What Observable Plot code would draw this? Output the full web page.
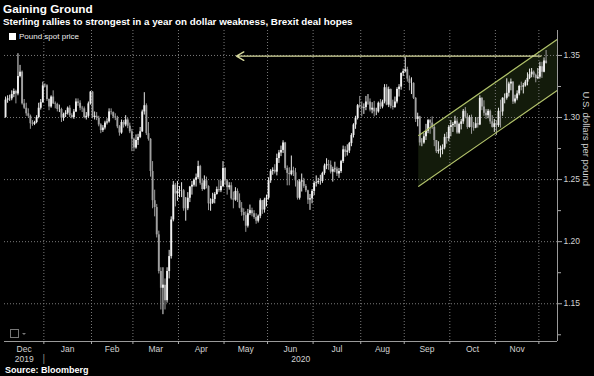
<!DOCTYPE html>
<html><head><meta charset="utf-8">
<script src="https://cdn.jsdelivr.net/npm/d3@7"></script>
<script src="https://cdn.jsdelivr.net/npm/@observablehq/plot@0.6"></script>
<style>
html,body{margin:0;padding:0;background:#000;}
#wrap{position:relative;width:594px;height:376px;background:#000;overflow:hidden;font-family:"Liberation Sans",Arial,sans-serif;color:#fff;}
#chart{position:absolute;left:0;top:28px;}
#title{position:absolute;left:3px;top:2px;font-size:11.8px;font-weight:bold;}
#subtitle{position:absolute;left:3px;top:16px;font-size:9.8px;font-weight:bold;}
#legend{position:absolute;left:9px;top:32px;font-size:8px;display:flex;align-items:center;gap:3px;color:#eee;}
#legend .sw{width:7px;height:7px;background:#fff;}
#source{position:absolute;left:5px;top:365px;font-size:9px;font-weight:bold;}
#icon{position:absolute;left:10px;top:329px;width:7px;height:7px;border:1px solid #777;}
#icon2{position:absolute;left:22px;top:333px;width:0;height:0;border-left:2px solid transparent;border-right:2px solid transparent;border-top:2px solid #777;}
</style></head>
<body><div id="wrap">
<div id="chart"></div>
<div id="title">Gaining Ground</div>
<div id="subtitle">Sterling rallies to strongest in a year on dollar weakness, Brexit deal hopes</div>
<div id="legend"><div class="sw"></div><span>Pound spot price</span></div>
<div id="icon"></div><div id="icon2"></div>
<div id="source">Source: Bloomberg</div>
</div>
<script>
// Trading days start 2019-12-05; one value per weekday through 2020-12-04
const firstDay = "2019-12-05";
const firstOpen = 1.3000;
const close = [
1.3140,1.3150,
1.3150,1.3185,1.3210,1.3190,1.3330,
1.3365,1.3110,1.3075,1.3030,1.3010,
1.2950,1.2945,1.2960,1.3000,1.3075,
1.3120,1.3255,1.3255,1.3145,1.3085,
1.3165,1.3110,1.3105,1.3065,1.3065,
1.2995,1.3025,1.3035,1.3075,1.3015,
1.3000,1.3045,1.3125,1.3115,1.3075,
1.3070,1.3000,1.3010,1.3110,1.3205,
1.3000,1.3010,1.2995,1.2940,1.2895,
1.2915,1.2955,1.2965,1.3045,1.3040,
1.3005,1.2995,1.2925,1.2875,1.2960,
1.2940,1.2980,1.2930,1.2885,1.2825,
1.2755,1.2815,1.2840,1.2885,1.3045,
1.3095,1.2870,1.2825,1.2565,1.2330,
1.2275,1.2055,1.1760,1.1625,1.1650,
1.1525,1.1760,1.1880,1.2175,1.2455,
1.2385,1.2405,1.2410,1.2410,1.2265,
1.2265,1.2350,1.2440,1.2455,1.2495,
1.2515,1.2605,1.2470,1.2420,1.2490,
1.2445,1.2305,1.2310,1.2340,1.2380,
1.2420,1.2410,1.2445,1.2590,1.2490,
1.2435,1.2450,1.2345,1.2335,1.2405,
1.2330,1.2270,1.2235,1.2210,1.2125,
1.2225,1.2250,1.2225,1.2195,1.2165,
1.2205,1.2330,1.2255,1.2335,1.2350,
1.2490,1.2565,1.2575,1.2560,1.2670,
1.2715,1.2735,1.2795,1.2590,1.2550,
1.2540,1.2570,1.2555,1.2490,1.2350,
1.2480,1.2490,1.2445,1.2410,1.2335,
1.2345,1.2405,1.2470,1.2475,1.2485,
1.2485,1.2550,1.2610,1.2620,1.2615,
1.2560,1.2580,1.2585,1.2545,1.2565,
1.2645,1.2740,1.2720,1.2730,1.2790,
1.2855,1.2940,1.2995,1.3095,1.3085,
1.3075,1.3080,1.3125,1.3125,1.3060,
1.3075,1.3045,1.3045,1.3115,1.3085,
1.3125,1.3240,1.3100,1.3225,1.3090,
1.3080,1.3125,1.3225,1.3245,1.3355,
1.3370,1.3385,1.3310,1.3275,1.3275,
1.3155,1.2985,1.3005,1.2795,1.2795,
1.2845,1.2890,1.2975,1.2955,1.2920,
1.2815,1.2725,1.2735,1.2745,1.2755,
1.2840,1.2830,1.2920,1.2935,1.2945,
1.2970,1.2875,1.2945,1.2965,1.3050,
1.3005,1.2920,1.3000,1.2920,1.2915,
1.2950,1.2940,1.3155,1.3085,1.3035,
1.3015,1.3050,1.2965,1.2920,1.2950,
1.2935,1.3050,1.3045,1.3155,1.3155,
1.3195,1.3270,1.3285,1.3125,1.3150,
1.3190,1.3250,1.3245,1.3255,1.3285,
1.3315,1.3345,1.3365,1.3340,1.3315,
1.3325,1.3410,1.3365,1.3455,1.3435
];
const high = [
1.3165,1.3175,
1.3180,1.3215,1.3230,1.3220,1.3514,
1.3420,1.3375,1.3145,1.3115,1.3070,
1.3020,1.2975,1.2970,1.3015,1.3115,
1.3145,1.3285,1.3270,1.3265,1.3150,
1.3175,1.3215,1.3125,1.3115,1.3100,
1.3075,1.3035,1.3055,1.3085,1.3095,
1.3030,1.3065,1.3150,1.3150,1.3135,
1.3090,1.3085,1.3040,1.3125,1.3210,
1.3210,1.3045,1.3040,1.3010,1.2950,
1.2935,1.2970,1.2990,1.3070,1.3070,
1.3045,1.3030,1.3010,1.2935,1.2980,
1.2975,1.3015,1.2995,1.2955,1.2905,
1.2835,1.2860,1.2865,1.2920,1.3060,
1.3200,1.3110,1.2960,1.2830,1.2645,
1.2415,1.2300,1.2085,1.1790,1.1790,
1.1700,1.1790,1.1930,1.2200,1.2485,
1.2470,1.2485,1.2445,1.2475,1.2420,
1.2355,1.2395,1.2445,1.2485,1.2505,
1.2545,1.2648,1.2615,1.2505,1.2530,
1.2520,1.2450,1.2345,1.2390,1.2395,
1.2440,1.2495,1.2490,1.2645,1.2595,
1.2500,1.2475,1.2475,1.2400,1.2435,
1.2425,1.2385,1.2315,1.2265,1.2240,
1.2260,1.2295,1.2270,1.2250,1.2225,
1.2215,1.2345,1.2330,1.2350,1.2375,
1.2515,1.2580,1.2595,1.2620,1.2705,
1.2735,1.2770,1.2813,1.2800,1.2610,
1.2595,1.2690,1.2600,1.2590,1.2490,
1.2500,1.2545,1.2510,1.2460,1.2415,
1.2380,1.2420,1.2485,1.2530,1.2510,
1.2535,1.2560,1.2625,1.2668,1.2655,
1.2650,1.2600,1.2640,1.2600,1.2590,
1.2655,1.2770,1.2765,1.2780,1.2800,
1.2870,1.2950,1.3010,1.3105,1.3170,
1.3125,1.3110,1.3170,1.3185,1.3150,
1.3120,1.3130,1.3075,1.3125,1.3145,
1.3140,1.3265,1.3265,1.3245,1.3230,
1.3140,1.3165,1.3240,1.3265,1.3360,
1.3390,1.3482,1.3405,1.3335,1.3320,
1.3280,1.3160,1.3035,1.3010,1.2830,
1.2870,1.2945,1.2985,1.2985,1.3005,
1.2935,1.2815,1.2805,1.2770,1.2780,
1.2865,1.2880,1.2935,1.2975,1.2960,
1.3010,1.2990,1.2955,1.2985,1.3065,
1.3080,1.3030,1.3015,1.3020,1.2960,
1.3000,1.3000,1.3175,1.3160,1.3135,
1.3065,1.3065,1.3060,1.3015,1.2985,
1.2975,1.3075,1.3140,1.3160,1.3190,
1.3312,1.3285,1.3310,1.3290,1.3180,
1.3215,1.3260,1.3285,1.3275,1.3300,
1.3360,1.3390,1.3395,1.3375,1.3350,
1.3395,1.3445,1.3445,1.3480,1.3540
];
const low = [
1.2995,1.3115,
1.3130,1.3135,1.3160,1.3110,1.3175,
1.3320,1.3100,1.3065,1.3010,1.2995,
1.2905,1.2930,1.2935,1.2950,1.2990,
1.3060,1.3115,1.3240,1.3130,1.3055,
1.3075,1.3105,1.3070,1.3045,1.3040,
1.2960,1.2970,1.3000,1.3020,1.3000,
1.2990,1.2985,1.3040,1.3090,1.3055,
1.3040,1.2990,1.2980,1.2995,1.3100,
1.2990,1.2980,1.2975,1.2925,1.2870,
1.2880,1.2900,1.2940,1.2955,1.3020,
1.2990,1.2975,1.2910,1.2850,1.2865,
1.2915,1.2925,1.2910,1.2870,1.2725,
1.2725,1.2745,1.2775,1.2830,1.2880,
1.3020,1.2855,1.2810,1.2520,1.2265,
1.2200,1.2030,1.1740,1.1450,1.1412,
1.1450,1.1505,1.1700,1.1860,1.2160,
1.2280,1.2325,1.2355,1.2355,1.2245,
1.2165,1.2250,1.2315,1.2375,1.2440,
1.2440,1.2500,1.2455,1.2405,1.2415,
1.2425,1.2250,1.2245,1.2300,1.2305,
1.2375,1.2395,1.2395,1.2435,1.2455,
1.2375,1.2415,1.2335,1.2265,1.2325,
1.2315,1.2265,1.2205,1.2165,1.2075,
1.2110,1.2210,1.2200,1.2180,1.2140,
1.2150,1.2185,1.2220,1.2230,1.2280,
1.2335,1.2470,1.2535,1.2545,1.2530,
1.2630,1.2685,1.2710,1.2575,1.2450,
1.2450,1.2530,1.2525,1.2440,1.2335,
1.2335,1.2400,1.2430,1.2395,1.2300,
1.2252,1.2305,1.2370,1.2440,1.2460,
1.2455,1.2470,1.2535,1.2580,1.2575,
1.2545,1.2480,1.2555,1.2525,1.2510,
1.2550,1.2630,1.2680,1.2690,1.2710,
1.2765,1.2835,1.2905,1.2980,1.3075,
1.3005,1.3025,1.3055,1.3100,1.3045,
1.3030,1.3005,1.3015,1.3035,1.3065,
1.3070,1.3110,1.3095,1.3080,1.3070,
1.3060,1.3075,1.3110,1.3165,1.3220,
1.3330,1.3360,1.3285,1.3215,1.3185,
1.3145,1.2960,1.2925,1.2770,1.2765,
1.2785,1.2815,1.2870,1.2865,1.2905,
1.2765,1.2710,1.2705,1.2675,1.2700,
1.2740,1.2785,1.2805,1.2845,1.2880,
1.2920,1.2865,1.2865,1.2900,1.2945,
1.2990,1.2905,1.2915,1.2865,1.2890,
1.2910,1.2915,1.2935,1.3055,1.3010,
1.2985,1.2990,1.2945,1.2915,1.2880,
1.2855,1.2920,1.2915,1.3010,1.3110,
1.3140,1.3165,1.3215,1.3105,1.3110,
1.3135,1.3175,1.3215,1.3190,1.3245,
1.3255,1.3305,1.3320,1.3320,1.3280,
1.3305,1.3310,1.3315,1.3360,1.3430
];

// Tick labels
const monthLabels = ["Dec","Jan","Feb","Mar","Apr","May","Jun","Jul","Aug","Sep","Oct","Nov"];
const yearLabels = ["2019","2020"];
const yTicks = [1.15,1.20,1.25,1.30,1.35];
const yMinorTicks = [1.125,1.175,1.225,1.275,1.325];
const yTitle = "U.S. dollars per pound";

// Annotations: uptrend channel and resistance level
const channelDates = ["2020-09-10","2020-12-14"];
const channelUpper = [1.2856, 1.3630];
const channelLower = [1.2446, 1.3220];
const resistanceDates = ["2020-12-02","2020-05-11"];
const resistanceLevel = 1.3495;
const axisEndDate = "2020-12-14";

// --- trading-day index (Bloomberg plots weekdays only) ---
const days = [];
{
  const d = new Date(firstDay + "T00:00:00Z");
  while (days.length < 300) {
    const wd = d.getUTCDay();
    if (wd !== 0 && wd !== 6) days.push(new Date(d));
    d.setUTCDate(d.getUTCDate() + 1);
  }
}
const idx = s => days.findIndex(t => +t === +new Date(s + "T00:00:00Z"));
const xEnd = idx(axisEndDate);

const rows = close.map((c, i) => {
  const o = i === 0 ? firstOpen : close[i - 1];
  return {u: i + 0.5, o, c, h: Math.max(high[i], o, c), l: Math.min(low[i], o, c), up: c >= o};
});

// month boundaries
const bounds = [];
for (let i = 1; i <= xEnd; i++) if (days[i].getUTCMonth() !== days[i-1].getUTCMonth()) bounds.push(i);
const segStarts = [0, ...bounds];
const monthRows = monthLabels.map((m, k) => ({label: m, x: (segStarts[k] + segStarts[k+1]) / 2}));
const yearRows = [
  {label: yearLabels[0], x: bounds[0] / 2},
  {label: yearLabels[1], x: (bounds[0] + xEnd) / 2}
];

const channel = channelDates.map((d, k) => ({u: idx(d), lo: channelLower[k], hi: channelUpper[k]}));

const yDomain = [1.1196, 1.3701];
const grid = {stroke: "#7a7a7a", strokeDasharray: "1,2", strokeWidth: 1};
const txt = "#d2d2d2";

const chart = Plot.plot({
  width: 594, height: 340,
  marginLeft: 4, marginRight: 37, marginTop: 2, marginBottom: 27,
  x: {domain: [0, xEnd], axis: null},
  y: {domain: yDomain, axis: null},
  style: {background: "transparent", color: txt, fontFamily: "'Liberation Sans', Arial, sans-serif", fontSize: "8.5px", overflow: "visible"},
  marks: [
    Plot.areaY(channel, {x: "u", y1: "lo", y2: "hi", fill: "#131b0b"}),
    Plot.ruleY(yTicks, {...grid}),
    Plot.ruleX(bounds, {...grid}),
    Plot.ruleX(rows, {x: "u", y1: "l", y2: "h", stroke: d => d.up ? "#e6e6e6" : "#9a9a9a", strokeWidth: 1}),
    Plot.ruleX(rows, {x: "u", y1: "o", y2: "c", stroke: d => d.up ? "#f0f0f0" : "#a0a0a0", strokeWidth: 1.9}),
    Plot.line(channel, {x: "u", y: "hi", stroke: "#b1c26a", strokeWidth: 1.2}),
    Plot.line(channel, {x: "u", y: "lo", stroke: "#b1c26a", strokeWidth: 1.2}),
    Plot.arrow([0], {x1: () => idx(resistanceDates[0]), x2: () => idx(resistanceDates[1]), y1: () => resistanceLevel, y2: () => resistanceLevel, stroke: "#d5d79c", strokeWidth: 1.4, headLength: 9, bend: 0}),
    Plot.ruleX([xEnd], {stroke: "#9a9a9a"}),
    Plot.ruleY([yDomain[0]], {stroke: "#9a9a9a"}),
    Plot.axisY(yTicks, {anchor: "right", tickSize: 4, tickPadding: 2, tickFormat: d3.format(".2f"), label: null, stroke: "#aaaaaa", fill: txt}),
    Plot.axisY(yMinorTicks, {anchor: "right", tickSize: 3, tickFormat: () => "", label: null, stroke: "#aaaaaa"}),
    Plot.axisX(bounds, {anchor: "bottom", tickSize: 3, tickFormat: () => "", label: null, stroke: "#aaaaaa"}),
    Plot.text(monthRows, {x: "x", text: "label", frameAnchor: "bottom", dy: 10, fill: txt}),
    Plot.text(yearRows, {x: "x", text: "label", frameAnchor: "bottom", dy: 20, fill: txt}),
    Plot.text([bounds[0]], {x: d => d, text: () => "|", frameAnchor: "bottom", dy: 20, fill: "#888", fontSize: 10}),
    Plot.text([yTitle], {frameAnchor: "right", dx: 29, rotate: 90, fill: txt, fontSize: 9.5})
  ]
});
document.getElementById("chart").appendChild(chart);
</script>
</body></html>
